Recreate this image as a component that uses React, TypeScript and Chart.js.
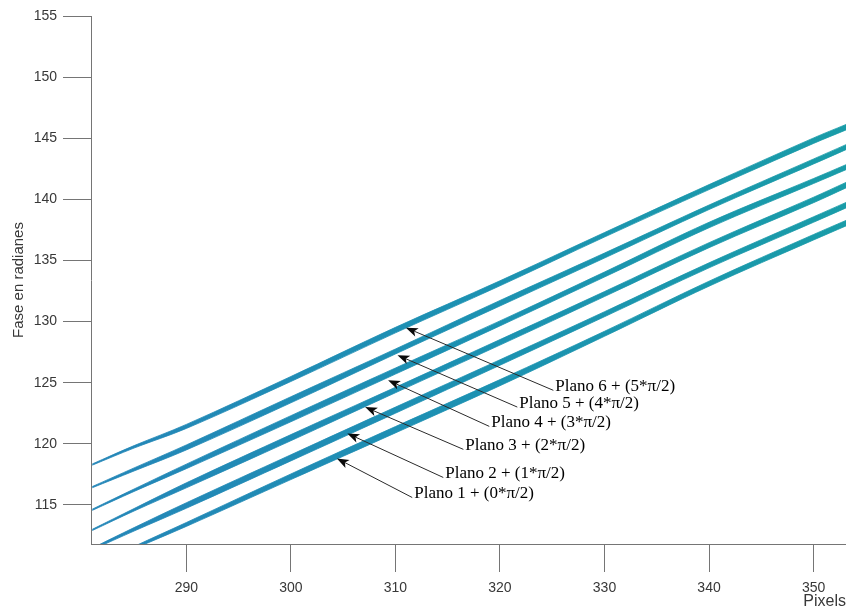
import { useEffect, useRef } from 'react';
import { Chart, registerables } from 'chart.js';

Chart.register(...registerables);

// Sample columns (pixel index along the image row)
const pixelX = [281, 285, 290, 300, 310, 320, 330, 340, 350, 353.1];

// Unwrapped phase of each plane (band centre), already shifted by k*pi/2
const plano1 = [109.9, 111.5, 113.4, 117.3, 121.15, 125.0, 129.0, 133.1, 136.9, 138.05];
const plano2 = [111.4, 113.0, 114.95, 118.85, 122.75, 126.65, 130.6, 134.6, 138.35, 139.52];
const plano3 = [112.95, 114.6, 116.6, 120.5, 124.4, 128.3, 132.25, 136.25, 139.95, 141.16];
const plano4 = [114.6, 116.2, 118.15, 122.05, 125.95, 129.85, 133.85, 137.9, 141.5, 142.63];
const plano5 = [116.45, 117.9, 119.7, 123.6, 127.55, 131.5, 135.4, 139.35, 143.1, 144.27];
const plano6 = [118.3, 119.75, 121.42, 125.3, 129.3, 133.13, 137.1, 141.0, 144.8, 145.9];

// Phase spread of each band (radians) at the sample columns
const spread1 = [0.12, 0.2, 0.32, 0.46, 0.52, 0.5, 0.41, 0.41, 0.45, 0.45];
const spread2 = [0.14, 0.28, 0.45, 0.5, 0.5, 0.45, 0.41, 0.41, 0.45, 0.45];
const spread3 = [0.1, 0.2, 0.41, 0.5, 0.45, 0.45, 0.41, 0.41, 0.45, 0.45];
const spread4 = [0.1, 0.2, 0.37, 0.5, 0.5, 0.41, 0.41, 0.45, 0.41, 0.41];
const spread5 = [0.1, 0.25, 0.41, 0.5, 0.41, 0.45, 0.41, 0.37, 0.41, 0.41];
const spread6 = [0.1, 0.2, 0.33, 0.41, 0.45, 0.41, 0.37, 0.41, 0.45, 0.45];

const xTicks = [290, 300, 310, 320, 330, 340, 350];
const yTicks = [115, 120, 125, 130, 135, 140, 145, 150, 155];

const planoLabels = [
  'Plano 1 + (0*π/2)',
  'Plano 2 + (1*π/2)',
  'Plano 3 + (2*π/2)',
  'Plano 4 + (3*π/2)',
  'Plano 5 + (4*π/2)',
  'Plano 6 + (5*π/2)',
];
// Arrow tips (on each band) and label anchors, in axis units
const tipX = [304.4, 305.4, 307.1, 309.3, 310.2, 311.0];
const tipY = [118.8, 120.85, 123.0, 125.2, 127.25, 129.5];
const labelX = [311.8, 314.77, 316.69, 319.17, 321.85, 325.3];
const labelY = [115.93, 117.57, 119.87, 121.75, 123.33, 124.7];

const planes = [plano1, plano2, plano3, plano4, plano5, plano6];
const spreads = [spread1, spread2, spread3, spread4, spread5, spread6];

const SANS = '"Liberation Sans", Arial, sans-serif';
const SERIF = '"Liberation Serif", "Times New Roman", serif';
const AXIS_GREY = '#757575';
const TEXT_GREY = '#383838';

const bandColor = (ctx: any) => {
  const { chart } = ctx;
  const area = chart.chartArea;
  if (!area) return '#1f92b0';
  const g = chart.ctx.createLinearGradient(area.left, 0, area.right, 0);
  g.addColorStop(0, '#2486b8');
  g.addColorStop(0.5, '#1c91b2');
  g.addColorStop(1, '#199ca8');
  return g;
};

const planoArrows = {
  id: 'planoArrows',
  afterDatasetsDraw(chart: any) {
    const { ctx, scales } = chart;
    const xs = scales.x;
    const ys = scales.y;
    ctx.save();
    ctx.font = `17px ${SERIF}`;
    ctx.textAlign = 'left';
    ctx.textBaseline = 'middle';
    planoLabels.forEach((text, i) => {
      const tx = xs.getPixelForValue(labelX[i]);
      const ty = ys.getPixelForValue(labelY[i]);
      const hx = xs.getPixelForValue(tipX[i]);
      const hy = ys.getPixelForValue(tipY[i]);
      const sx = tx - 2;
      const sy = ty + 4;
      const ang = Math.atan2(hy - sy, hx - sx);
      const c = Math.cos(ang);
      const s = Math.sin(ang);
      const len = 12;
      const half = 4.5;
      const notch = 3;
      const bx = hx - len * c;
      const by = hy - len * s;
      const nx = hx - (len - notch) * c;
      const ny = hy - (len - notch) * s;

      ctx.strokeStyle = '#2a2a2a';
      ctx.lineWidth = 1;
      ctx.beginPath();
      ctx.moveTo(sx, sy);
      ctx.lineTo(nx, ny);
      ctx.stroke();

      ctx.fillStyle = '#0a0a0a';
      ctx.beginPath();
      ctx.moveTo(hx, hy);
      ctx.lineTo(bx - half * s, by + half * c);
      ctx.lineTo(nx, ny);
      ctx.lineTo(bx + half * s, by - half * c);
      ctx.closePath();
      ctx.fill();

      ctx.fillStyle = '#000';
      ctx.fillText(text, tx, ty);
    });
    ctx.restore();
  },
};

export default function App() {
  const canvasRef = useRef<HTMLCanvasElement | null>(null);

  useEffect(() => {
    const canvas = canvasRef.current;
    if (!canvas) return;

    // Each plane is a thin band: upper edge filled down to its lower edge
    const datasets: any[] = [];
    planes.forEach((vals, i) => {
      const edge = (sign: number) =>
        pixelX.map((xv, j) => ({ x: xv, y: vals[j] + (sign * spreads[i][j]) / 2 }));
      const common = {
        borderColor: bandColor,
        backgroundColor: bandColor,
        borderWidth: 0.8,
        pointRadius: 0,
        pointHoverRadius: 0,
        tension: 0.35,
        clip: 0,
      };
      datasets.push({ ...common, label: planoLabels[i], data: edge(1), fill: '+1' });
      datasets.push({ ...common, label: planoLabels[i] + ' (borde)', data: edge(-1), fill: false });
    });

    const chart = new Chart(canvas, {
      type: 'line',
      data: { datasets },
      options: {
        animation: false,
        responsive: false,
        events: [],
        layout: { padding: { top: 16, left: 0, right: 0, bottom: 0 } },
        plugins: {
          legend: { display: false },
          tooltip: { enabled: false },
          filler: { propagate: false },
        },
        scales: {
          x: {
            type: 'linear',
            min: 280.88,
            max: 353.1,
            afterBuildTicks: (scale: any) => {
              scale.ticks = xTicks.map((v) => ({ value: v }));
            },
            afterFit: (scale: any) => {
              scale.height = 68;
            },
            grid: {
              drawOnChartArea: false,
              drawTicks: true,
              tickLength: 28,
              color: AXIS_GREY,
              lineWidth: 1,
            },
            border: { display: true, color: AXIS_GREY, width: 1 },
            ticks: {
              autoSkip: false,
              maxRotation: 0,
              padding: 8,
              color: TEXT_GREY,
              font: { family: SANS, size: 14 },
            },
            title: {
              display: true,
              text: 'Pixels',
              align: 'end',
              color: TEXT_GREY,
              font: { family: SANS, size: 16 },
              padding: { top: 0, bottom: 1 },
            },
          },
          y: {
            type: 'linear',
            min: 111.8,
            max: 155,
            afterBuildTicks: (scale: any) => {
              scale.ticks = yTicks.map((v) => ({ value: v }));
            },
            afterFit: (scale: any) => {
              scale.width = 91;
            },
            grid: {
              drawOnChartArea: false,
              drawTicks: true,
              tickLength: 28,
              color: AXIS_GREY,
              lineWidth: 1,
            },
            border: { display: true, color: AXIS_GREY, width: 1 },
            ticks: {
              autoSkip: false,
              padding: 6,
              color: TEXT_GREY,
              font: { family: SANS, size: 14 },
            },
            title: {
              display: true,
              text: 'Fase en radianes',
              color: TEXT_GREY,
              font: { family: SANS, size: 15 },
              padding: { top: 10, bottom: 0 },
            },
          },
        },
      },
      plugins: [planoArrows],
    } as any);

    return () => {
      chart.destroy();
    };
  }, []);

  return (
    <div style={{ position: 'fixed', left: 0, top: 0, width: 846, height: 612, background: '#fff' }}>
      <canvas ref={canvasRef} width={846} height={612} style={{ display: 'block' }} />
    </div>
  );
}
